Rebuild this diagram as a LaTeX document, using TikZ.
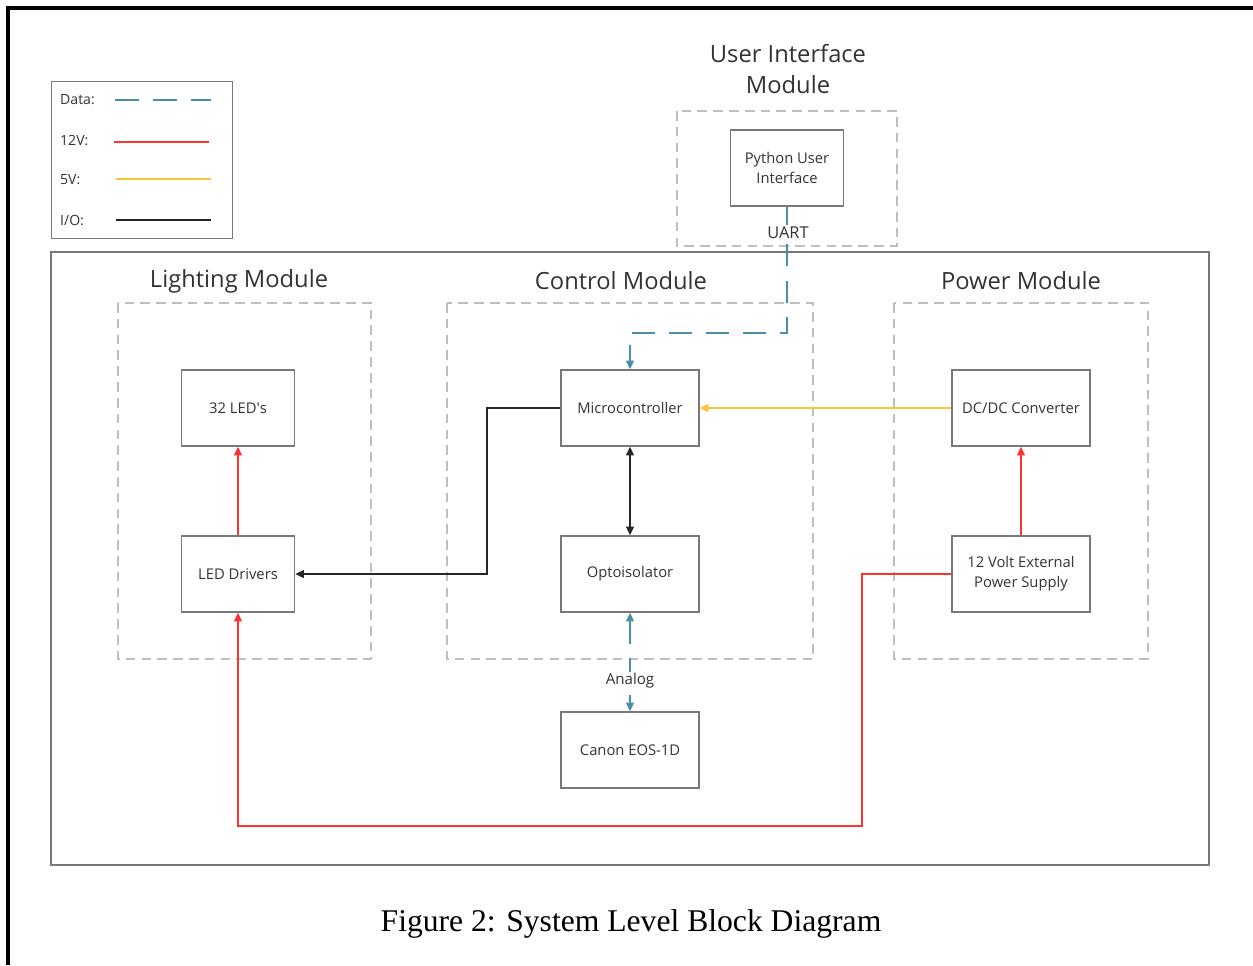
\documentclass[tikz,border=0pt]{standalone}
\usepackage{fontspec}
\setmainfont{Open Sans}
\newfontfamily\captionfont{Liberation Serif}
\usetikzlibrary{arrows.meta}
\definecolor{datablue}{RGB}{74,142,168}
\definecolor{powred}{RGB}{250,50,50}
\definecolor{powyellow}{RGB}{252,196,60}
\definecolor{boxgray}{RGB}{120,120,120}
\definecolor{dashgray}{RGB}{190,190,190}

\tikzset{
  block/.style={draw=boxgray, line width=0.8pt, fill=white, minimum width=2.26cm, minimum height=1.52cm, align=center, font=\fontsize{8.4}{11.3}\selectfont, text=black!80},
  wideblock/.style={block, minimum width=2.76cm},
  module/.style={draw=dashgray, line width=0.8pt, dash pattern=on 5.5pt off 3.5pt},
  modtitle/.style={font=\fontsize{13.5}{18}\selectfont, text=black!80, align=center},
  datal/.style={datablue, line width=0.85pt, dash pattern=on 13pt off 8pt},
  twelvel/.style={powred, line width=0.85pt},
  fivel/.style={powyellow, line width=0.85pt},
  iol/.style={black!85, line width=0.85pt},
  lgtext/.style={font=\fontsize{8}{9}\selectfont, text=black!80, anchor=west},
  linelabel/.style={fill=white, inner sep=1pt, text=black!80}
}

\begin{document}
\begin{tikzpicture}[x=0.02cm, y=-0.02cm, >={Triangle[length=5pt,width=4.5pt]}]

        \useasboundingbox (0,0) rectangle (1253,965);

        %outer frame
        \draw[line width=1.8pt] (8,965) -- (8,8) -- (1253,8);

        %legend
        \node[draw=boxgray, line width=0.8pt, minimum width=3.62cm, minimum height=3.14cm, anchor=north west] (legend) at (51,81) {};
        \node[lgtext] (lgdata) at (54,100) {Data:};
        \node[lgtext] (lgtwelve) at (54,140) {12V:};
        \node[lgtext] (lgfive) at (54,180) {5V:};
        \node[lgtext] (lgio) at (54,220) {I/O:};
        \draw[datablue, line width=0.85pt, dash pattern=on 13.6pt off 8pt] (115,100) -- (211,100);
        \draw[twelvel] (114,142) -- (209,142);
        \draw[fivel] (116,179) -- (211,179);
        \draw[iol] (116,220) -- (211,220);

        %main system box
        \draw[draw=boxgray, line width=0.8pt] (51,252) rectangle (1209,865);

        %modules
        \draw[module] (677,111) rectangle (897,246);
        \draw[module] (118,303) rectangle (371,659);
        \draw[module] (447,303) rectangle (813,659);
        \draw[module] (894,303) rectangle (1148,659);
        \node[modtitle] (uititle) at (788,69) {User Interface\\Module};
        \node[modtitle] (lighttitle) at (239,281) {Lighting Module};
        \node[modtitle] (ctrltitle) at (621,281) {Control Module};
        \node[modtitle] (powtitle) at (1021,281) {Power Module};

        %blocks
        \node[block] (pyui) at (787,168) {Python User\\Interface};
        \node[block] (leds) at (238,408) {32 LED\textquotesingle s};
        \node[block] (drivers) at (238,574) {LED Drivers};
        \node[wideblock] (mcu) at (630,408) {Microcontroller};
        \node[wideblock] (opto) at (630,574) {Optoisolator};
        \node[wideblock] (canon) at (630,750) {Canon EOS-1D};
        \node[wideblock] (dcdc) at (1021,408) {DC/DC Converter};
        \node[wideblock] (psu) at (1021,574) {12 Volt External\\Power Supply};

        %bends
        \coordinate (uartbend) at (787,333);
        \coordinate (mcubend) at (630,333);
        \coordinate (iobend) at (487,408);
        \coordinate (iobend2) at (487,574);
        \coordinate (pwbend) at (862,574);
        \coordinate (pwbend2) at (862,826);
        \coordinate (pwbend3) at (238,826);

        %data
        \draw[datal,->] (pyui.south) -- (uartbend) -- (mcubend) -- (mcu.north);
        \node[linelabel, font=\fontsize{9.3}{11}\selectfont] (uart) at (788,233) {UART};
        \draw[datal,<->] (opto.south) -- (canon.north);
        \node[linelabel, font=\fontsize{8.6}{10}\selectfont] (analog) at (630,681) {Analog};

        %5V
        \draw[fivel,->] (dcdc.west) -- (mcu.east);

        %I/O
        \draw[iol,->] (mcu.west) -- (iobend) -- (iobend2) -- (drivers.east);
        \draw[iol,<->] (mcu.south) -- (opto.north);

        %12V
        \draw[twelvel,->] (drivers.north) -- (leds.south);
        \draw[twelvel,->] (psu.north) -- (dcdc.south);
        \draw[twelvel,->] (psu.west) -- (pwbend) -- (pwbend2) -- (pwbend3) -- (drivers.south);

        %caption
        \node[font=\captionfont\fontsize{18}{20}\selectfont] (caption) at (631,924) {Figure 2: System Level Block Diagram};

\end{tikzpicture}
\end{document}
